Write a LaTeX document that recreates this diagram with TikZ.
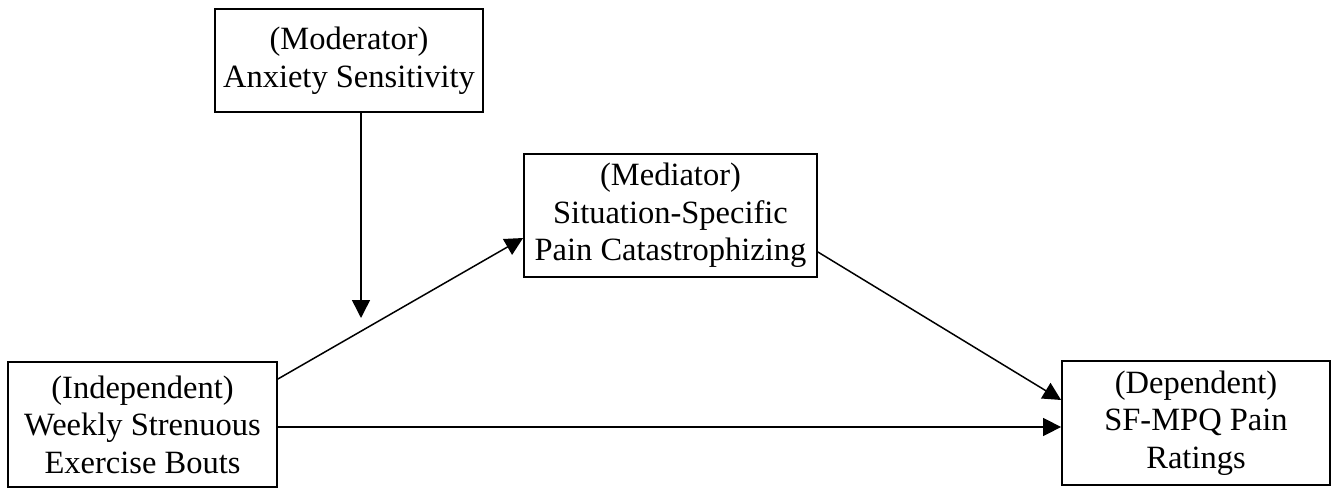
\documentclass[tikz,border=0pt]{standalone}
\usepackage{fontspec}
\setmainfont{Liberation Serif}
\usetikzlibrary{arrows.meta}
\begin{document}
\begin{tikzpicture}[x=1pt,y=-1pt,
  boxnode/.style={draw=black,line width=1.8pt,rectangle,align=center,inner sep=0pt,
    font=\fontsize{32.5}{37.5}\selectfont},
  arr/.style={line width=1.5pt,-{Triangle[length=18pt,width=18pt]}}]
\useasboundingbox (0,0) rectangle (1339,489);
\node[boxnode,minimum width=268pt,minimum height=103pt] (mod) at (349,60.5)
  {(Moderator)\\Anxiety Sensitivity};
\node[boxnode,minimum width=293pt,minimum height=123pt] (med) at (670.5,215.5)
  {(Mediator)\\Situation-Specific\\Pain Catastrophizing};
\node[boxnode,minimum width=269pt,minimum height=125pt] (ind) at (142.5,424.5)
  {(Independent)\\Weekly Strenuous\\Exercise Bouts};
\node[boxnode,minimum width=268pt,minimum height=124pt] (dep) at (1196,423)
  {(Dependent)\\SF-MPQ Pain\\Ratings};
\coordinate (modtip) at (361,318);
\draw[arr] ([xshift=12pt]mod.south) -- (modtip);
\draw[arr] ([yshift=45.5pt]ind.east) -- ([yshift=-22.5pt]med.west);
\draw[arr] ([yshift=-36.5pt]med.east) -- ([yshift=23pt]dep.west);
\draw[arr] ([yshift=-2.5pt]ind.east) -- ([yshift=-2.5pt]ind.east -| dep.west);
\end{tikzpicture}
\end{document}
